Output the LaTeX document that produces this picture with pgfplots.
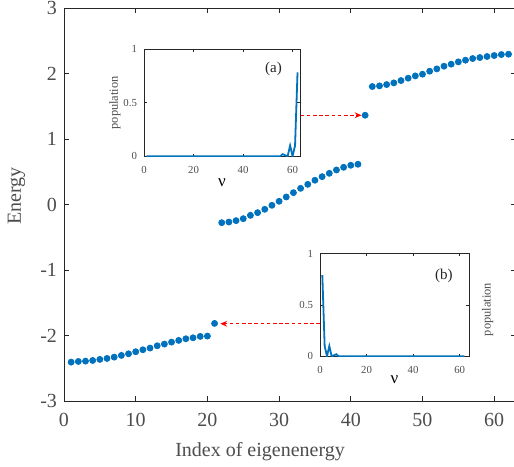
\documentclass[border=0pt]{standalone}
\usepackage{fontspec}
\setmainfont{Liberation Serif}
\usepackage{pgfplots}
\pgfplotsset{compat=1.18}
\usetikzlibrary{arrows.meta}
\definecolor{mblue}{RGB}{0,114,189}
\definecolor{tgray}{RGB}{77,77,77}
\definecolor{mred}{RGB}{255,0,0}
\pgfplotsset{
  matlab/.style={
    scale only axis,
    axis line style={black!85, line width=0.4pt},
    tick align=inside,
    xtick pos=both, ytick pos=both,
    xticklabel pos=lower, yticklabel pos=left,
    tick style={black!85, line width=0.4pt},
    ticklabel style={text=tgray},
    /pgf/number format/assume math mode=true,
  },
}
\begin{document}
\begin{tikzpicture}
\begin{axis}[matlab, name=main, at={(0,0)}, anchor=south west,
  width=225.85pt, height=196.65pt,
  xmin=0, xmax=63, ymin=-3, ymax=3,
  xtick={0,10,...,60}, ytick={-3,-2,...,3},
  major tick length=2.5pt,
  tick label style={font=\fontsize{10}{12}\selectfont},
  xticklabel shift=2.5pt,
  xlabel={Index of eigenenergy}, ylabel={Energy},
  label style={font=\fontsize{10}{12}\selectfont, text=tgray},
  xlabel style={at={(axis description cs:0.434,-0.127)}, anchor=center},
  ylabel style={at={(axis description cs:-0.105,0.522)}, anchor=center},
]
\addplot[only marks, mark=*, mark size=1.5pt, color=mblue] coordinates {
 (1,-2.402) (2,-2.392) (3,-2.387) (4,-2.377) (5,-2.361) (6,-2.346) (7,-2.326)
 (8,-2.300) (9,-2.275) (10,-2.244) (11,-2.214) (12,-2.188) (13,-2.153) (14,-2.127)
 (15,-2.097) (16,-2.071) (17,-2.046) (18,-2.031) (19,-2.010) (20,-2.005)
 (21,-1.812)
 (22,-0.275) (23,-0.265) (24,-0.244) (25,-0.214) (26,-0.163) (27,-0.122) (28,-0.071)
 (29,-0.010) (30,0.051) (31,0.117) (32,0.183) (33,0.249) (34,0.310) (35,0.372)
 (36,0.427) (37,0.478) (38,0.529) (39,0.570) (40,0.601) (41,0.616)
 (42,1.364)
 (43,1.802) (44,1.812) (45,1.832) (46,1.858) (47,1.893) (48,1.929) (49,1.964)
 (50,1.990) (51,2.036) (52,2.071) (53,2.112) (54,2.143) (55,2.178) (56,2.204)
 (57,2.229) (58,2.244) (59,2.260) (60,2.275) (61,2.290) (62,2.295)
};
\coordinate (a0) at (axis cs:33.0,1.364);
\coordinate (a1) at (axis cs:41.5,1.364);
\coordinate (b0) at (axis cs:35.7,-1.817);
\coordinate (b1) at (axis cs:21.8,-1.817);
\end{axis}

% inset (a)
\begin{axis}[matlab, at={(40pt,122.5pt)}, anchor=south west,
  width=78pt, height=53.5pt,
  axis background/.style={fill=white},
  xmin=0, xmax=63, ymin=0, ymax=1,
  xtick={0,20,40,60}, ytick={0,0.5,1}, yticklabels={0,0.5,1},
  major tick length=1.3pt,
  tick label style={font=\fontsize{5.4}{6}\selectfont},
  xticklabel shift=1.5pt,
  xlabel={ν}, ylabel={population},
  xlabel style={font=\fontsize{8.5}{9}\selectfont, at={(axis description cs:0.5,-0.25)}, anchor=center},
  ylabel style={font=\fontsize{6.2}{7}\selectfont, text=tgray, at={(axis description cs:-0.186,0.5)}, anchor=center},
]
\addplot[mblue, line width=0.9pt] coordinates {
 (1,0) (55,0) (56,0.02) (57,0.01) (58,0) (59,0.1) (60,0) (61,0.1) (62,0.785)
};
\node[font=\fontsize{7.5}{8}\selectfont, text=black!85] at (axis cs:52.3,0.82) {(a)};
\end{axis}

% inset (b)
\begin{axis}[matlab, at={(128pt,22.5pt)}, anchor=south west,
  width=74.5pt, height=51.35pt,
  axis background/.style={fill=white},
  xmin=0, xmax=64, ymin=0, ymax=1,
  xtick={0,20,40,60}, ytick={0,0.5,1}, yticklabels={0,0.5,1},
  major tick length=1.3pt,
  tick label style={font=\fontsize{5.4}{6}\selectfont},
  xticklabel shift=1.5pt,
  xlabel={ν}, ylabel={population},
  xlabel style={font=\fontsize{8.5}{9}\selectfont, at={(axis description cs:0.5,-0.228)}, anchor=center},
  ylabel style={font=\fontsize{6.2}{7}\selectfont, text=tgray, at={(axis description cs:1.125,0.454)}, anchor=center},
]
\addplot[mblue, line width=0.9pt] coordinates {
 (1,0.79) (2,0.1) (3,0) (4,0.1) (5,0) (6,0.01) (7,0.02) (8,0) (62,0)
};
\node[font=\fontsize{7.5}{8}\selectfont, text=black!85] at (axis cs:53.2,0.78) {(b)};
\end{axis}

% red dashed arrows
\begin{scope}[draw=mred, fill=mred, color=mred]
\draw[draw=mred, line width=0.7pt, dash pattern=on 1.8pt off 1.3pt,
  -{Stealth[length=3.4pt,width=2.9pt,fill=mred]}] (a0) -- (a1);
\draw[draw=mred, line width=0.7pt, dash pattern=on 1.8pt off 1.3pt,
  -{Stealth[length=3.4pt,width=2.9pt,fill=mred]}] (b0) -- (b1);
\end{scope}

\pgfresetboundingbox
\path[use as bounding box] (-32pt,-32.35pt) rectangle (225pt,200.65pt);
\end{tikzpicture}
\end{document}
